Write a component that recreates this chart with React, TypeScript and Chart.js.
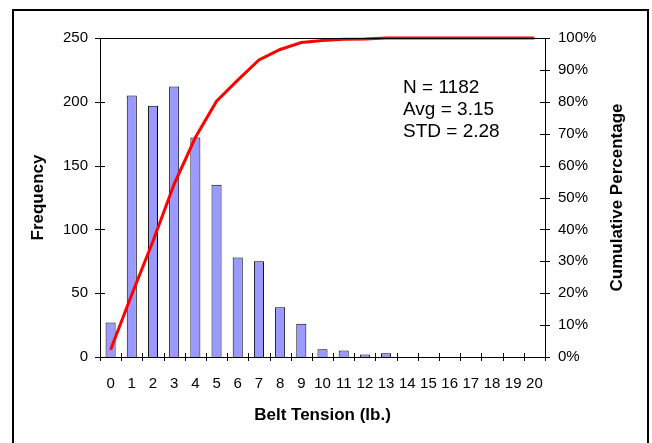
import React, { useEffect, useRef } from "react";
import { Chart, registerables } from "chart.js";

Chart.register(...registerables);

const categories: string[] = ["0","1","2","3","4","5","6","7","8","9","10","11","12","13","14","15","16","17","18","19","20"];
const frequency: number[] = [27, 205, 197, 212, 172, 135, 78, 75, 39, 26, 6, 5, 2, 3, 0, 0, 0, 0, 0, 0, 0];
const cumulativePct: number[] = [2.3, 19.6, 36.3, 54.2, 68.8, 80.2, 86.8, 93.1, 96.4, 98.6, 99.2, 99.6, 99.7, 100, 100, 100, 100, 100, 100, 100, 100];
const statsLines: string[] = ["N = 1182", "Avg = 3.15", "STD = 2.28"];
const FONT = "'Liberation Sans', Arial, Helvetica, sans-serif";

const decorPlugin = {
  id: "decor",
  afterDraw(chart: any) {
    const ctx = chart.ctx as CanvasRenderingContext2D;
    const { left, right, top, bottom } = chart.chartArea;
    const xs = chart.scales.x;
    const y = chart.scales.y;
    const y2 = chart.scales.y2;
    ctx.save();
    ctx.strokeStyle = "#000";
    ctx.lineWidth = 1;
    // top line of plot
    ctx.beginPath();
    ctx.moveTo(left, Math.round(top) + 0.5);
    ctx.lineTo(right, Math.round(top) + 0.5);
    ctx.stroke();
    // tick marks crossing the axes
    ctx.beginPath();
    y.ticks.forEach((t: any) => {
      const py = Math.round(y.getPixelForValue(t.value)) + 0.5;
      ctx.moveTo(left - 5, py);
      ctx.lineTo(left + 5, py);
    });
    y2.ticks.forEach((t: any) => {
      const py = Math.round(y2.getPixelForValue(t.value)) + 0.5;
      ctx.moveTo(right - 5, py);
      ctx.lineTo(right + 5, py);
    });
    const half = (xs.getPixelForValue(1) - xs.getPixelForValue(0)) / 2;
    for (let i = 0; i <= categories.length; i++) {
      const px = Math.round(xs.getPixelForValue(i) - half) + 0.5;
      ctx.moveTo(px, bottom - 4);
      ctx.lineTo(px, bottom + 4);
    }
    ctx.stroke();
    // outer frame
    ctx.lineWidth = 2;
    ctx.strokeRect(13, 10, 635, 460);
    // stats text
    ctx.fillStyle = "#000";
    ctx.font = `19px ${FONT}`;
    ctx.textAlign = "left";
    ctx.textBaseline = "alphabetic";
    const tx = left + (right - left) * 0.681;
    statsLines.forEach((s, i) => {
      ctx.fillText(s, tx, top + 55 + i * 22);
    });
    // right axis title
    ctx.font = `bold 17px ${FONT}`;
    ctx.textAlign = "center";
    ctx.textBaseline = "middle";
    ctx.translate(617, (top + bottom) / 2);
    ctx.rotate(-Math.PI / 2);
    ctx.fillText("Cumulative Percentage", 0, 0);
    ctx.restore();
  },
};

export default function App() {
  const ref = useRef<HTMLCanvasElement | null>(null);
  useEffect(() => {
    if (!ref.current) return;
    Chart.defaults.font.family = FONT;
    Chart.defaults.color = "#000";
    const chart = new Chart(ref.current, {
      type: "bar",
      data: {
        labels: categories,
        datasets: [
          {
            type: "line",
            label: "Cumulative",
            data: cumulativePct,
            yAxisID: "y2",
            borderColor: "#FF0000",
            borderWidth: 3,
            pointRadius: 0,
            tension: 0,
            fill: false,
            clip: false as any,
            order: 0,
          } as any,
          {
            type: "bar",
            label: "Frequency",
            data: frequency,
            yAxisID: "y",
            backgroundColor: "#9999FF",
            borderColor: "#000",
            borderWidth: 1,
            borderSkipped: "bottom",
            barPercentage: 0.95,
            categoryPercentage: 0.5,
            order: 1,
          } as any,
        ],
      },
      options: {
        responsive: false,
        animation: false,
        devicePixelRatio: 1,
        layout: { padding: { top: 38, left: 0, right: 0, bottom: 0 } },
        plugins: { legend: { display: false }, tooltip: { enabled: false } },
        scales: {
          x: {
            type: "category",
            offset: true,
            grid: { display: false, drawTicks: false, offset: true },
            border: { display: true, color: "#000", width: 1 },
            ticks: { font: { size: 15 }, color: "#000", padding: 18, maxRotation: 0, autoSkip: false },
            title: { display: true, text: "Belt Tension (lb.)", font: { size: 17, weight: "bold" }, color: "#000", padding: { top: 0, bottom: 17 } },
            afterFit: (s: any) => { s.height = 86; },
          },
          y: {
            position: "left",
            min: 0,
            max: 250,
            ticks: { stepSize: 50, font: { size: 15 }, color: "#000", padding: 12 },
            grid: { display: false, drawTicks: false },
            border: { display: true, color: "#000", width: 1 },
            title: { display: true, text: "Frequency", font: { size: 17, weight: "bold" }, color: "#000", padding: { top: 28, bottom: 0 } },
            afterFit: (s: any) => { s.width = 100; },
          },
          y2: {
            position: "right",
            min: 0,
            max: 100,
            ticks: { stepSize: 10, font: { size: 15 }, color: "#000", padding: 13, callback: (v: any) => `${v}%` },
            grid: { display: false, drawTicks: false },
            border: { display: true, color: "#000", width: 1 },
            afterFit: (s: any) => { s.width = 107; },
          },
        },
      } as any,
      plugins: [decorPlugin],
    });
    return () => chart.destroy();
  }, []);
  return (
    <div style={{ position: "fixed", left: 0, top: 0, width: 652, height: 443, background: "#fff" }}>
      <canvas ref={ref} width={652} height={443} style={{ width: 652, height: 443, display: "block" }} />
    </div>
  );
}
